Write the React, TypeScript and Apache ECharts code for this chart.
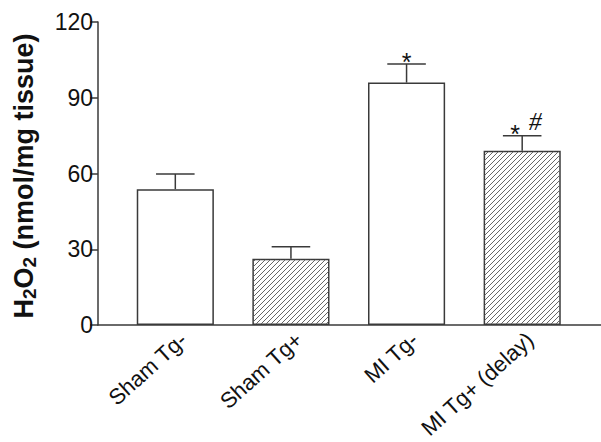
import React, { useEffect, useRef } from "react";
import * as echarts from "echarts";

const categories = ["Sham Tg-", "Sham Tg+", "MI Tg-", "MI Tg+ (delay)"];
const means = [53.8, 26.2, 96, 69];
const sems = [6, 4.8, 7.4, 6];
const hatched = [0, 1, 0, 1];
const marks = ["", "", "*", "*#"];
const yTicks = { min: 0, max: 120, interval: 30 };

const FONT = "'Liberation Sans', Arial, Helvetica, sans-serif";
const INK = "#3a3a3a";

export default function App() {
  const ref = useRef<HTMLDivElement>(null);
  useEffect(() => {
    if (!ref.current) return;
    const chart = echarts.init(ref.current, undefined, { renderer: "svg" });
    const top = 22;
    const bottom = 117;
    const barData = means.map((m, i) => [i, m, sems[i], hatched[i]]);

    const option: any = {
      animation: false,
      backgroundColor: "#ffffff",
      grid: [
        { left: 98, right: 0, top, bottom },
        { left: 117.5, right: 21, top, bottom },
        { left: 125.5, right: 13, top, bottom },
      ],
      xAxis: [
        {
          gridIndex: 0,
          type: "value",
          min: 0,
          max: 1,
          axisLine: { show: true, lineStyle: { color: INK, width: 1.5 } },
          axisTick: { show: false },
          axisLabel: { show: false },
          splitLine: { show: false },
        },
        {
          gridIndex: 1,
          type: "category",
          data: categories,
          axisLine: { show: false },
          axisTick: { show: false },
          axisLabel: { show: false },
          splitLine: { show: false },
        },
        {
          gridIndex: 2,
          type: "category",
          data: categories,
          axisLine: { show: false },
          axisTick: { show: false },
          splitLine: { show: false },
          axisLabel: {
            show: true,
            rotate: 42,
            margin: 18,
            fontSize: 22,
            fontFamily: FONT,
            color: "#111",
            interval: 0,
          },
        },
      ],
      yAxis: [
        {
          gridIndex: 0,
          type: "value",
          min: yTicks.min,
          max: yTicks.max,
          interval: yTicks.interval,
          axisLine: { show: true, lineStyle: { color: INK, width: 1.5 } },
          axisTick: { show: true, length: 8, lineStyle: { color: INK, width: 1.5 } },
          axisLabel: { fontSize: 23, fontFamily: FONT, color: "#111", margin: 5 },
          splitLine: { show: false },
        },
        { gridIndex: 1, type: "value", min: 0, max: 120, show: false },
        { gridIndex: 2, type: "value", min: 0, max: 120, show: false },
      ],
      graphic: [
        {
          type: "text",
          x: 24,
          y: 176,
          rotation: Math.PI / 2,
          style: {
            text: "{a|H}{s|2}{a|O}{s|2}{a| (nmol/mg tissue)}",
            align: "center",
            verticalAlign: "middle",
            rich: {
              a: { fontSize: 27, fontWeight: "bold", fontFamily: FONT, fill: "#111", verticalAlign: "middle" },
              s: { fontSize: 19, fontWeight: "bold", fontFamily: FONT, fill: "#111", padding: [10, 0, 0, 0] },
            },
          },
        },
      ],
      series: [
        {
          type: "bar",
          xAxisIndex: 1,
          yAxisIndex: 1,
          barWidth: "66.7%",
          data: means,
          itemStyle: { color: "#ffffff", borderColor: INK, borderWidth: 1.5 },
          z: 2,
        },
        {
          type: "custom",
          xAxisIndex: 1,
          yAxisIndex: 1,
          data: barData,
          z: 3,
          renderItem: (params: any, api: any) => {
            const i = api.value(0);
            const v = api.value(1);
            const e = api.value(2);
            const h = api.value(3);
            const band = api.size([1, 0])[0];
            const w = band * 0.667;
            const pTop = api.coord([i, v]);
            const pBase = api.coord([i, 0]);
            const pCap = api.coord([i, v + e]);
            const cx = pTop[0];
            const children: any[] = [];
            if (h) {
              const x0 = cx - w / 2 + 1;
              const x1 = cx + w / 2 - 1;
              const y0 = pTop[1] + 1;
              const y1 = pBase[1] - 1;
              const s = 5;
              const cStart = Math.ceil((x0 + y0) / s) * s;
              for (let c = cStart; c <= x1 + y1; c += s) {
                const xa = Math.max(x0, c - y1);
                const xb = Math.min(x1, c - y0);
                if (xb > xa) {
                  children.push({
                    type: "line",
                    shape: { x1: xa, y1: c - xa, x2: xb, y2: c - xb },
                    style: { stroke: "#666", lineWidth: 1 },
                  });
                }
              }
            }
            const capHalf = w * 0.25;
            children.push({
              type: "line",
              shape: { x1: cx, y1: pTop[1], x2: cx, y2: pCap[1] },
              style: { stroke: INK, lineWidth: 1.5 },
            });
            children.push({
              type: "line",
              shape: { x1: cx - capHalf, y1: pCap[1], x2: cx + capHalf, y2: pCap[1] },
              style: { stroke: INK, lineWidth: 1.5 },
            });
            const m = marks[params.dataIndex] || "";
            const hasHash = m.indexOf("#") >= 0;
            if (m.indexOf("*") >= 0) {
              children.push({
                type: "text",
                x: hasHash ? cx - 7 : cx,
                y: pCap[1] - 2,
                style: {
                  text: "*",
                  fontSize: 25,
                  fontFamily: FONT,
                  fill: "#111",
                  align: "center",
                  verticalAlign: "middle",
                },
              });
            }
            if (hasHash) {
              children.push({
                type: "text",
                x: cx + 13,
                y: pCap[1] - 14,
                style: {
                  text: "#",
                  fontSize: 26,
                  fontStyle: "italic",
                  fontFamily: "'Liberation Serif', 'Times New Roman', serif",
                  fill: "#111",
                  align: "center",
                  verticalAlign: "middle",
                },
              });
            }
            return { type: "group", children };
          },
        },
      ],
    };
    chart.setOption(option);
    return () => chart.dispose();
  }, []);
  return (
    <div
      ref={ref}
      style={{ position: "fixed", left: 0, top: 0, width: 601, height: 442, background: "#fff" }}
    />
  );
}
